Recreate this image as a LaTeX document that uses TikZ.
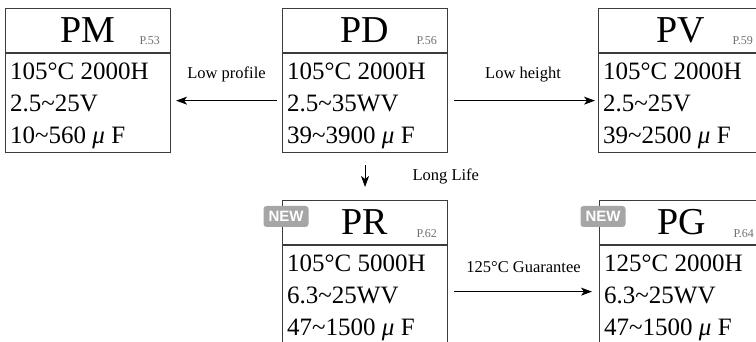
\documentclass[tikz,border=0pt]{standalone}
\usepackage{fontspec}
\setmainfont{Liberation Serif}
\newfontfamily\badgefont{Liberation Sans}
\usetikzlibrary{calc,arrows.meta}

\definecolor{boxgray}{HTML}{3C3C3C}
\definecolor{pagegray}{HTML}{707070}
\definecolor{badgegray}{HTML}{A6A6A6}
\newcommand{\wave}{\textasciitilde}

\tikzset{
  head/.style={draw=boxgray, line width=1.1pt, anchor=north west, inner sep=0pt,
    minimum width=165pt, minimum height=44pt, font=\fontsize{38}{40}\selectfont},
  body/.style={draw=boxgray, line width=1.1pt, anchor=north west, inner sep=0pt,
    minimum width=165pt},
  pagelbl/.style={anchor=base east, inner sep=0pt, text=pagegray,
    font=\fontsize{12}{13}\selectfont},
  spec/.style={anchor=base west, inner sep=0pt, font=\fontsize{25}{28}\selectfont},
  badge/.style={fill=badgegray, rounded corners=3pt, minimum width=45pt, minimum height=21pt,
    inner sep=0pt, text=white, font=\badgefont\bfseries\fontsize{15}{16}\selectfont},
  lbl/.style={inner sep=0pt, font=\fontsize{16.5}{18}\selectfont},
  arr/.style={-{Stealth[length=11pt,width=8pt,inset=3pt]}, line width=1pt}
}

\begin{document}
\begin{tikzpicture}[x=1pt,y=-1pt]
\useasboundingbox (0,0) rectangle (756,342);
\clip (0,0) rectangle (756,342);

\foreach \n/\x/\y/\h/\p/\a/\b/\c in {
  PM/5/8/99/53/105°C 2000H/2.5\wave 25V/10\wave 560 \textit{μ} F,
  PD/282/8/99/56/105°C 2000H/2.5\wave 35WV/39\wave 3900 \textit{μ} F,
  PV/598/8/99/59/105°C 2000H/2.5\wave 25V/39\wave 2500 \textit{μ} F,
  PR/282/200/97/62/105°C 5000H/6.3\wave 25WV/47\wave 1500 \textit{μ} F,
  PG/599/200/97/64/125°C 2000H/6.3\wave 25WV/47\wave 1500 \textit{μ} F}{
	\node[head] (\n-head) at (\x,\y) {\n};
	\node[body, minimum height=\h] (\n-body) at (\n-head.south west) {};
	\node[pagelbl] (\n-page) at ($(\n-head.north east)+(-11,37)$) {P.\p};
	\node[spec] (\n-l1) at ($(\n-body.north west)+(5,26)$) {\a};
	\node[spec] (\n-l2) at ($(\n-body.north west)+(5,58)$) {\b};
	\node[spec] (\n-l3) at ($(\n-body.north west)+(5,90)$) {\c};
}

\node[badge] (PR-new) at ($(PR-head.north west)+(4,16.5)$) {NEW};
\node[badge] (PG-new) at ($(PG-head.north west)+(4,16.5)$) {NEW};

\draw[arr, shorten <=5pt, shorten >=5pt] ([yshift=2.5pt]PD-body.west)--([yshift=2.5pt]PM-body.east)node[midway, above=18pt, lbl]{Low profile};
\draw[arr, shorten <=6pt, shorten >=3pt] ([yshift=2.5pt]PD-body.east)--([yshift=2.5pt]PV-body.west)node[midway, above=18pt, lbl]{Low height};
\draw[arr, shorten <=12pt, shorten >=13pt] (PD-body.south)--(PR-head.north)node[midway, right=47pt, lbl]{Long Life};
\draw[arr, shorten <=6pt, shorten >=7pt] ([yshift=2.5pt]PR-body.east)--([yshift=2.5pt]PG-body.west)node[midway, above=18pt, lbl]{125°C Guarantee};
\end{tikzpicture}
\end{document}
